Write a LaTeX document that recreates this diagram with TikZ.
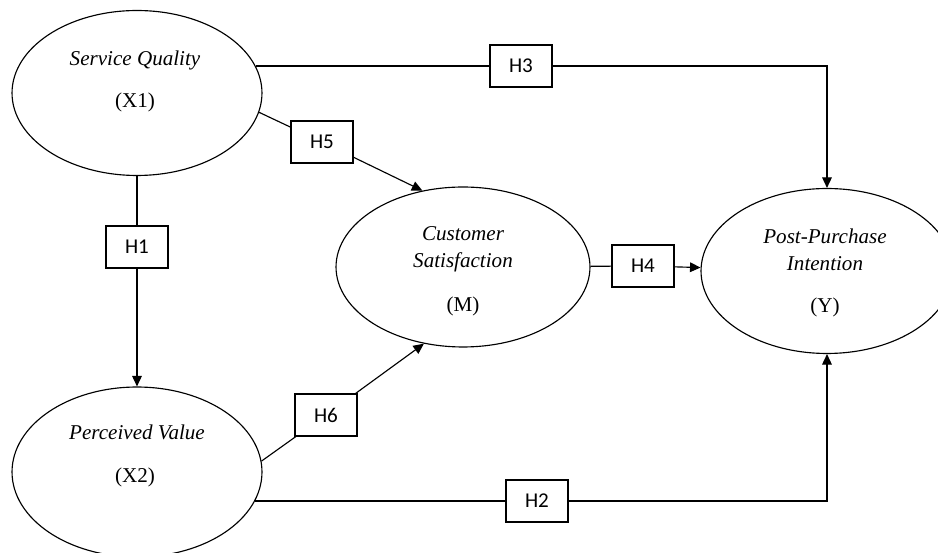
\documentclass[tikz,border=0pt]{standalone}
\usepackage{fontspec}
\setmainfont{Liberation Serif}
\newfontfamily\boxfont{Carlito}
\usetikzlibrary{shapes.geometric,arrows.meta}

\begin{document}
\begin{tikzpicture}[x=0.02cm,y=-0.02cm]
  \tikzset{latent/.style = {draw, ellipse, line width=0.65pt, inner sep=0pt, minimum width=5cm, minimum height=3.3cm}}
  \tikzset{hyp/.style = {draw, fill=white, line width=0.65pt, minimum width=1.24cm, minimum height=0.84cm, inner sep=0pt, font=\boxfont\fontsize{12}{14}\selectfont}}
  \tikzset{vname/.style = {inner sep=0pt, align=center, font=\itshape\fontsize{12}{15.3}\selectfont}}
  \tikzset{vcode/.style = {inner sep=0pt, font=\fontsize{12}{14}\selectfont}}
  \tikzset{link/.style = {line width=0.65pt}}
  \tikzset{arr/.style = {link, -{Triangle[length=6pt,width=5.5pt]}}}

\useasboundingbox (0,0) rectangle (938,553);

% latent variables
\node[latent] (sq) at (137,93) {};
\node[latent, minimum height=3.4cm] (pv) at (137,472) {};
\node[latent, minimum width=5.08cm, minimum height=3.2cm] (cs) at (463,267) {};
\node[latent, minimum width=5.04cm] (pp) at (827,271) {};

\node[vname] (sqn) at (135,60) {Service Quality};
\node[vcode] (sqc) at (135,102) {(X1)};
\node[vname] (pvn) at (137,432) {Perceived Value};
\node[vcode] (pvc) at (135,477) {(X2)};
\node[vname] (csn) at (463,249) {Customer\\Satisfaction};
\node[vcode] (csc) at (463,306) {(M)};
\node[vname] (ppn) at (825,250) {Post-Purchase\\Intention};
\node[vcode] (ppc) at (825,307) {(Y)};

% hypotheses
\node[hyp] (h1) at (137,247) {H1};
\node[hyp] (h2) at (537,501) {H2};
\node[hyp] (h3) at (521,66) {H3};
\node[hyp] (h4) at (643,266) {H4};
\node[hyp] (h5) at (322,142) {H5};
\node[hyp] (h6) at (326,415) {H6};

\draw[link] (sq) -- (h1);
\draw[arr] (h1) -- (pv);
\draw[link, shorten <=-0.15cm] (pv.east |- h2) -- (h2);
\draw[arr] (h2) -| (pp);
\draw[link, shorten <=-0.14cm] (sq.east |- h3) -- (h3);
\draw[arr] (h3) -| (pp);
\draw[link] (cs) -- (h4);
\draw[arr] (h4) -- (pp);
\draw[link] (sq.-9) -- (h5);
\draw[arr] (h5) -- (cs.118);
\draw[link] (pv.5) -- (h6);
\draw[arr] (h6) -- (cs.-117);

\end{tikzpicture}
\end{document}
